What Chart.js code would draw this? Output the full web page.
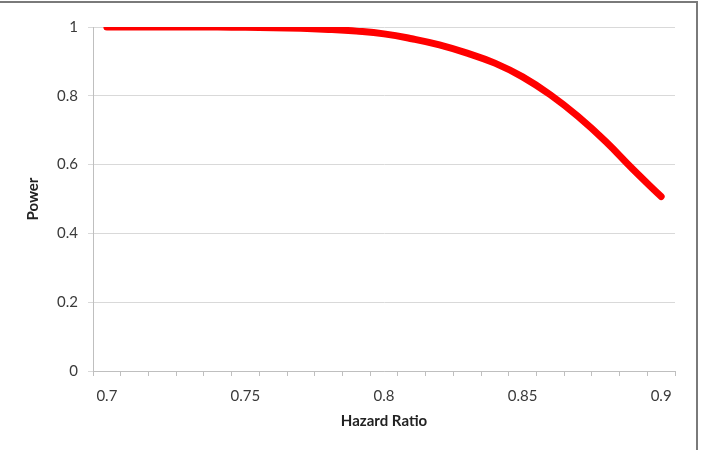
<!DOCTYPE html>
<html>
<head>
<meta charset="utf-8">
<script src="https://cdn.jsdelivr.net/npm/chart.js@4/dist/chart.umd.min.js"></script>
<style>
  html, body { margin: 0; padding: 0; background: #fff; }
  #wrap { position: relative; width: 703px; height: 450px; }
  #frame {
    position: absolute; left: 0; top: 1px; width: 698px; height: 449px;
    border-top: 2px solid #7a7a7a; border-right: 2px solid #7a7a7a;
    box-sizing: border-box; pointer-events: none;
  }
  canvas { position: absolute; left: 0; top: 0; }
</style>
</head>
<body>
<div id="wrap">
  <canvas id="chart" width="703" height="450"></canvas>
  <div id="frame"></div>
</div>
<script>
const hazardRatios = ["0.7", "0.71", "0.72", "0.73", "0.74", "0.75", "0.76", "0.77", "0.78", "0.79",
  "0.8", "0.81", "0.82", "0.83", "0.84", "0.85", "0.86", "0.87", "0.88", "0.89", "0.9"];
const power = [1.0, 1.0, 1.0, 1.0, 1.0, 0.999, 0.998, 0.996, 0.993, 0.988,
  0.98, 0.966, 0.948, 0.924, 0.895, 0.855, 0.803, 0.74, 0.667, 0.585, 0.507];
const xLabelsShown = ["0.7", "0.75", "0.8", "0.85", "0.9"];

const font = "Lato, 'Open Sans', sans-serif";
const ctx = document.getElementById("chart").getContext("2d");

new Chart(ctx, {
  type: "line",
  data: {
    labels: hazardRatios,
    datasets: [
      {
        label: "Power",
        data: power,
        borderColor: "#ff0000",
        borderWidth: 7,
        borderCapStyle: "round",
        borderJoinStyle: "round",
        pointRadius: 0,
        tension: 0.45,
        fill: false,
      },
    ],
  },
  options: {
    responsive: false,
    animation: false,
    layout: { padding: { left: 0, top: 27, right: 28, bottom: 0 } },
    plugins: { legend: { display: false }, tooltip: { enabled: false } },
    scales: {
      x: {
        type: "category",
        offset: true,
        grid: {
          offset: true,
          drawOnChartArea: false,
          drawTicks: true,
          tickLength: 5,
          color: "#bfbfbf",
        },
        border: { color: "#bfbfbf" },
        ticks: {
          autoSkip: false,
          maxRotation: 0,
          padding: 11,
          color: "#3a3a3a",
          font: { family: font, size: 15 },
          callback: function (v) {
            const lbl = this.getLabelForValue(v);
            return xLabelsShown.includes(lbl) ? lbl : "";
          },
        },
        title: {
          display: true,
          text: "Hazard Ratio",
          color: "#222",
          font: { family: font, size: 15, weight: "bold" },
          padding: { top: 0, bottom: 20 },
        },
        afterFit: (axis) => { axis.height = 450 - 371; },
      },
      y: {
        min: 0,
        max: 1,
        grid: { color: "#d9d9d9", tickLength: 5, lineWidth: 1 },
        border: { color: "#bfbfbf" },
        ticks: {
          stepSize: 0.2,
          padding: 10,
          color: "#3a3a3a",
          font: { family: font, size: 15 },
          callback: (v) => String(+v.toFixed(1)),
        },
        title: {
          display: true,
          text: "Power",
          color: "#222",
          font: { family: font, size: 15, weight: "bold" },
          padding: { top: 24, bottom: 0 },
        },
        afterFit: (axis) => { axis.width = 93; },
      },
    },
  },
});
</script>
</body>
</html>
